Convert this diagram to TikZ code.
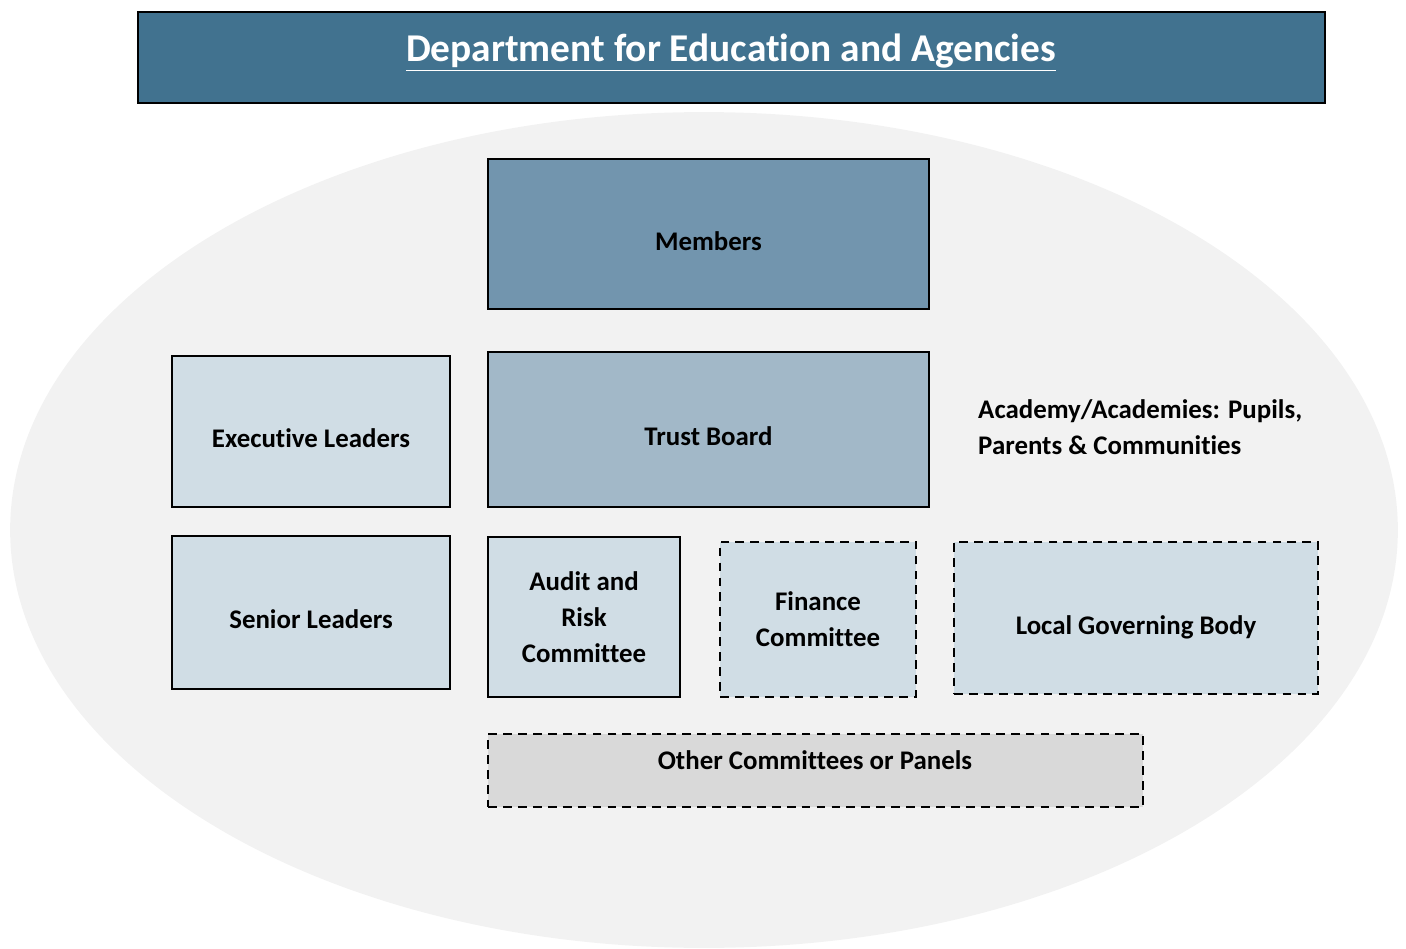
\documentclass[tikz,border=0pt]{standalone}
\usepackage{fontspec}
\setmainfont{Carlito}[Ligatures=NoCommon]
\usetikzlibrary{positioning}
\definecolor{deptblue}{HTML}{41728F}
\definecolor{memberblue}{HTML}{7295AE}
\definecolor{trustblue}{HTML}{A2B8C8}
\definecolor{paleblue}{HTML}{D0DDE5}
\definecolor{panelgrey}{HTML}{D9D9D9}
\definecolor{ovalgrey}{HTML}{F2F2F2}
\begin{document}
\begin{tikzpicture}[x=0.02cm, y=-0.02cm,
	box/.style = {draw, line width=1.2pt, rectangle, align=center, font=\fontsize{15.3}{20.5}\selectfont\bfseries},
	dashbox/.style = {box, dash pattern=on 5pt off 3.5pt},
	low/.style = {text height=21.5pt, text depth=3pt},
	txt/.style = {align=left, font=\fontsize{15.3}{20.5}\selectfont\bfseries}]
	
	\useasboundingbox (0,0) rectangle (1406,949);
	\fill[ovalgrey] (704,530) ellipse [x radius=13.88cm, y radius=8.36cm];
	
	\node[box, fill=deptblue, minimum width=23.74cm, minimum height=1.82cm] (dept) at (731.5,57.5) {};
	\node[font=\fontsize{22.4}{26}\selectfont\bfseries, text=white] (deptTxt) at (731,53) {\underline{Department for Education and Agencies}};
	
	\node[box, low, fill=memberblue, minimum width=8.82cm, minimum height=3.0cm] (members) at (708.5,234) {Members};
	\node[box, low, fill=trustblue, minimum width=8.82cm, minimum height=3.1cm] (trust) at (708.5,429.5) {Trust Board};
	\node[box, low, fill=paleblue, minimum width=5.56cm, minimum height=3.02cm] (exec) at (311,431.5) {Executive Leaders};
	\node[box, low, fill=paleblue, minimum width=5.56cm, minimum height=3.06cm] (senior) at (311,612.5) {Senior Leaders};
	\node[box, fill=paleblue, minimum width=3.84cm, minimum height=3.2cm] (audit) at (584,617) {Audit and\\Risk\\Committee};
	\node[dashbox, fill=paleblue, minimum width=3.92cm, minimum height=3.1cm] (finance) at (818,619.5) {Finance\\Committee};
	\node[dashbox, low, fill=paleblue, minimum width=7.28cm, minimum height=3.04cm] (lgb) at (1136,618) {Local Governing Body};
	\node[dashbox, fill=panelgrey, minimum width=13.1cm, minimum height=1.46cm] (other) at (815.5,770.5) {};
	\node[txt] (otherTxt) at (815,760) {Other Committees or Panels};
	
	\node[txt, anchor=west] (academy) at (972,427) {Academy/Academies: Pupils,\\Parents \& Communities};
\end{tikzpicture}
\end{document}
